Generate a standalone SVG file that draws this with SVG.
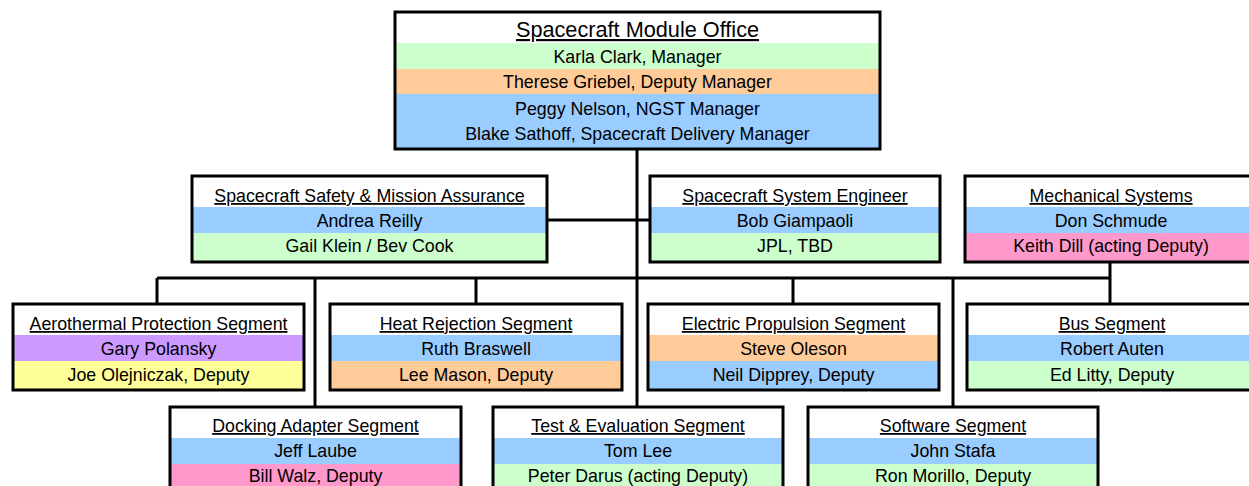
<svg xmlns="http://www.w3.org/2000/svg" width="1249" height="486" viewBox="0 0 1249 486">
<style>
.box{fill:none;stroke:#000;stroke-width:3}
.w{fill:#fff}
.g{fill:#ccffcc}
.o{fill:#ffcc99}
.b{fill:#99ccff}
.p{fill:#ff99cc}
.v{fill:#cc99ff}
.y{fill:#ffff99}
text{font-family:"Liberation Sans",Arial,sans-serif;font-size:17.8px;fill:#000;text-anchor:middle}
.t{text-decoration:underline}
.big{font-size:21.7px}
.c{fill:none;stroke:#000;stroke-width:3}
</style>
<g id="connectors">
<path class="c" d="M637 149V407M547 220H650M157 278H1110M157 278V303M315 278V407M476 278V304M793 278V304M953 278V407M1110 262V304"/>
</g>
<g id="office">
<rect class="w" x="395" y="12" width="485" height="31"/>
<rect class="g" x="395" y="43" width="485" height="26"/>
<rect class="o" x="395" y="69" width="485" height="25"/>
<rect class="b" x="395" y="94" width="485" height="55"/>
<rect class="box" x="395" y="12" width="485" height="137"/>
<text class="big t" x="637.5" y="37">Spacecraft Module Office</text>
<text x="637.5" y="63">Karla Clark, Manager</text>
<text x="637.5" y="88">Therese Griebel, Deputy Manager</text>
<text x="637.5" y="115">Peggy Nelson, NGST Manager</text>
<text x="637.5" y="140">Blake Sathoff, Spacecraft Delivery Manager</text>
</g>
<g id="sma">
<rect class="w" x="192" y="176" width="355" height="31"/>
<rect class="b" x="192" y="207" width="355" height="26"/>
<rect class="g" x="192" y="233" width="355" height="29"/>
<rect class="box" x="192" y="176" width="355" height="86"/>
<text class="t" x="369.5" y="202">Spacecraft Safety &amp; Mission Assurance</text>
<text x="369.5" y="227">Andrea Reilly</text>
<text x="369.5" y="252">Gail Klein / Bev Cook</text>
</g>
<g id="sse">
<rect class="w" x="650" y="176" width="290" height="31"/>
<rect class="b" x="650" y="207" width="290" height="26"/>
<rect class="g" x="650" y="233" width="290" height="29"/>
<rect class="box" x="650" y="176" width="290" height="86"/>
<text class="t" x="795" y="202">Spacecraft System Engineer</text>
<text x="795" y="227">Bob Giampaoli</text>
<text x="795" y="252">JPL, TBD</text>
</g>
<g id="mech">
<rect class="w" x="965" y="176" width="292" height="31"/>
<rect class="b" x="965" y="207" width="292" height="26"/>
<rect class="p" x="965" y="233" width="292" height="29"/>
<rect class="box" x="965" y="176" width="292" height="86"/>
<text class="t" x="1111" y="202">Mechanical Systems</text>
<text x="1111" y="227">Don Schmude</text>
<text x="1111" y="252">Keith Dill (acting Deputy)</text>
</g>
<g id="aero">
<rect class="w" x="13" y="304" width="291" height="31"/>
<rect class="v" x="13" y="335" width="291" height="26"/>
<rect class="y" x="13" y="361" width="291" height="29"/>
<rect class="box" x="13" y="304" width="291" height="86"/>
<text class="t" x="158.5" y="330">Aerothermal Protection Segment</text>
<text x="158.5" y="355">Gary Polansky</text>
<text x="158.5" y="381">Joe Olejniczak, Deputy</text>
</g>
<g id="heat">
<rect class="w" x="330" y="304" width="292" height="31"/>
<rect class="b" x="330" y="335" width="292" height="26"/>
<rect class="o" x="330" y="361" width="292" height="29"/>
<rect class="box" x="330" y="304" width="292" height="86"/>
<text class="t" x="476" y="330">Heat Rejection Segment</text>
<text x="476" y="355">Ruth Braswell</text>
<text x="476" y="381">Lee Mason, Deputy</text>
</g>
<g id="elec">
<rect class="w" x="648" y="304" width="291" height="31"/>
<rect class="o" x="648" y="335" width="291" height="26"/>
<rect class="b" x="648" y="361" width="291" height="29"/>
<rect class="box" x="648" y="304" width="291" height="86"/>
<text class="t" x="793.5" y="330">Electric Propulsion Segment</text>
<text x="793.5" y="355">Steve Oleson</text>
<text x="793.5" y="381">Neil Dipprey, Deputy</text>
</g>
<g id="bus">
<rect class="w" x="967" y="304" width="290" height="31"/>
<rect class="b" x="967" y="335" width="290" height="26"/>
<rect class="g" x="967" y="361" width="290" height="29"/>
<rect class="box" x="967" y="304" width="290" height="86"/>
<text class="t" x="1112" y="330">Bus Segment</text>
<text x="1112" y="355">Robert Auten</text>
<text x="1112" y="381">Ed Litty, Deputy</text>
</g>
<g id="dock">
<rect class="w" x="170" y="407" width="291" height="31"/>
<rect class="b" x="170" y="438" width="291" height="26"/>
<rect class="p" x="170" y="464" width="291" height="29"/>
<rect class="box" x="170" y="407" width="291" height="86"/>
<text class="t" x="315.5" y="432">Docking Adapter Segment</text>
<text x="315.5" y="457">Jeff Laube</text>
<text x="315.5" y="482">Bill Walz, Deputy</text>
</g>
<g id="test">
<rect class="w" x="493" y="407" width="290" height="31"/>
<rect class="b" x="493" y="438" width="290" height="26"/>
<rect class="g" x="493" y="464" width="290" height="29"/>
<rect class="box" x="493" y="407" width="290" height="86"/>
<text class="t" x="638" y="432">Test &amp; Evaluation Segment</text>
<text x="638" y="457">Tom Lee</text>
<text x="638" y="482">Peter Darus (acting Deputy)</text>
</g>
<g id="soft">
<rect class="w" x="808" y="407" width="290" height="31"/>
<rect class="b" x="808" y="438" width="290" height="26"/>
<rect class="g" x="808" y="464" width="290" height="29"/>
<rect class="box" x="808" y="407" width="290" height="86"/>
<text class="t" x="953" y="432">Software Segment</text>
<text x="953" y="457">John Stafa</text>
<text x="953" y="482">Ron Morillo, Deputy</text>
</g>
</svg>
